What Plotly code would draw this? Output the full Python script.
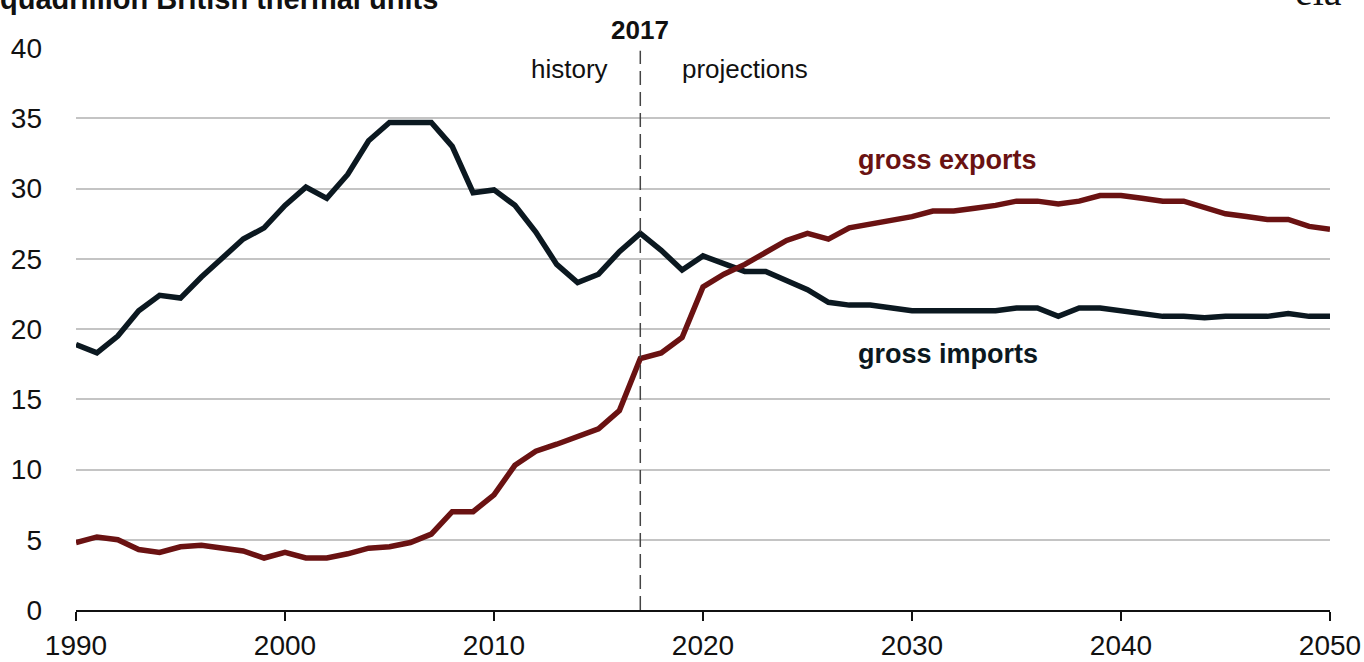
import plotly.graph_objects as go

years = list(range(1990, 2051))
imports = [18.9, 18.3, 19.5, 21.3, 22.4, 22.2, 23.7, 25.1, 26.4, 27.2,
           28.8, 30.1, 29.3, 31.0, 33.4, 34.7, 34.7, 34.7, 33.0, 29.7,
           29.9, 28.8, 26.9, 24.6, 23.3, 23.9, 25.5, 26.8, 25.6, 24.2,
           25.2, 24.6, 24.1, 24.1, 23.5, 22.8, 21.9, 21.7, 21.7, 21.5,
           21.3, 21.3, 21.3, 21.3, 21.3, 21.5, 21.5, 20.9, 21.5, 21.5,
           21.3, 21.1, 20.9, 20.9, 20.8, 20.9, 20.9, 20.9, 21.1, 20.9,
           20.9]
exports = [4.8, 5.2, 5.0, 4.3, 4.1, 4.5, 4.6, 4.4, 4.2, 3.7,
           4.1, 3.7, 3.7, 4.0, 4.4, 4.5, 4.8, 5.4, 7.0, 7.0,
           8.2, 10.3, 11.3, 11.8, 12.3, 12.9, 14.2, 17.9, 18.3, 19.4,
           23.0, 23.9, 24.6, 25.5, 26.3, 26.8, 26.4, 27.2, 27.5, 27.7,
           28.0, 28.4, 28.4, 28.6, 28.8, 29.1, 29.1, 28.9, 29.1, 29.5,
           29.5, 29.3, 29.1, 29.1, 28.6, 28.2, 28.0, 27.8, 27.8, 27.3,
           27.1]
x_ticks = [1990, 2000, 2010, 2020, 2030, 2040, 2050]
y_ticks = [0, 5, 10, 15, 20, 25, 30, 35, 40]
split_year = 2017

IMP_C = "#0b1820"
EXP_C = "#6a1212"
FONT = "Liberation Sans, Arial, sans-serif"

fig = go.Figure()
fig.add_trace(go.Scatter(x=years, y=imports, mode="lines", name="gross imports",
                         line=dict(color=IMP_C, width=5.5), showlegend=False))
fig.add_trace(go.Scatter(x=years, y=exports, mode="lines", name="gross exports",
                         line=dict(color=EXP_C, width=5.5), showlegend=False))

fig.add_shape(type="line", x0=split_year, x1=split_year, y0=0, y1=39.8,
              xref="x", yref="y", line=dict(color="#444444", width=1.5, dash="14px,7px"))

ann_font = dict(family=FONT, size=26, color="#111111")
fig.add_annotation(x=split_year, y=1.032, text="<b>2017</b>", showarrow=False,
                   font=dict(family=FONT, size=26, color="#111111"), xref="x", yref="paper",
                   yanchor="middle")
fig.add_annotation(x=2013.6, y=38.5, text="history", showarrow=False,
                   font=ann_font, xref="x", yref="y")
fig.add_annotation(x=2022.0, y=38.5, text="projections", showarrow=False,
                   font=ann_font, xref="x", yref="y")
fig.add_annotation(x=2031.7, y=32.0, text="<b>gross exports</b>", showarrow=False,
                   font=dict(family=FONT, size=27, color=EXP_C), xref="x", yref="y")
fig.add_annotation(x=2031.7, y=18.2, text="<b>gross imports</b>", showarrow=False,
                   font=dict(family=FONT, size=27, color=IMP_C), xref="x", yref="y")

# unit label and logo, partly cut off at the top edge as in the reference
fig.add_annotation(x=0, y=1, xref="paper", yref="paper", xanchor="left", yanchor="bottom",
                   text="<b>quadrillion British thermal units</b>", showarrow=False,
                   font=dict(family=FONT, size=29, color="#111111"),
                   xshift=-78, yshift=31)
fig.add_annotation(x=0.9912, y=1, xref="paper", yref="paper", xanchor="center", yanchor="bottom",
                   text="eia", showarrow=False,
                   font=dict(family="Liberation Serif, Times New Roman, serif", size=40, color="#111111"),
                   yshift=32)

fig.update_layout(
    width=1364, height=662,
    margin=dict(l=76, r=34, t=48, b=52),
    paper_bgcolor="white", plot_bgcolor="white",
    font=dict(family=FONT, size=28, color="#111111"),
    xaxis=dict(range=[1990, 2050], tickvals=x_ticks, showgrid=False,
               showline=True, linecolor="#111111", linewidth=2,
               ticks="outside", ticklen=9, tickwidth=2, tickcolor="#111111",
               zeroline=False, automargin=False, tickfont=dict(family=FONT, size=28)),
    yaxis=dict(range=[0, 40], tickvals=y_ticks, showgrid=True,
               gridcolor="#c4c4c4", gridwidth=2, zeroline=False,
               showline=False, ticks="", ticklabelstandoff=33, automargin=False,
               tickfont=dict(family=FONT, size=28)),
)

fig.write_html("out.html", config={"displayModeBar": False},
               post_script="document.body.style.margin='0';document.body.style.overflow='hidden';")
